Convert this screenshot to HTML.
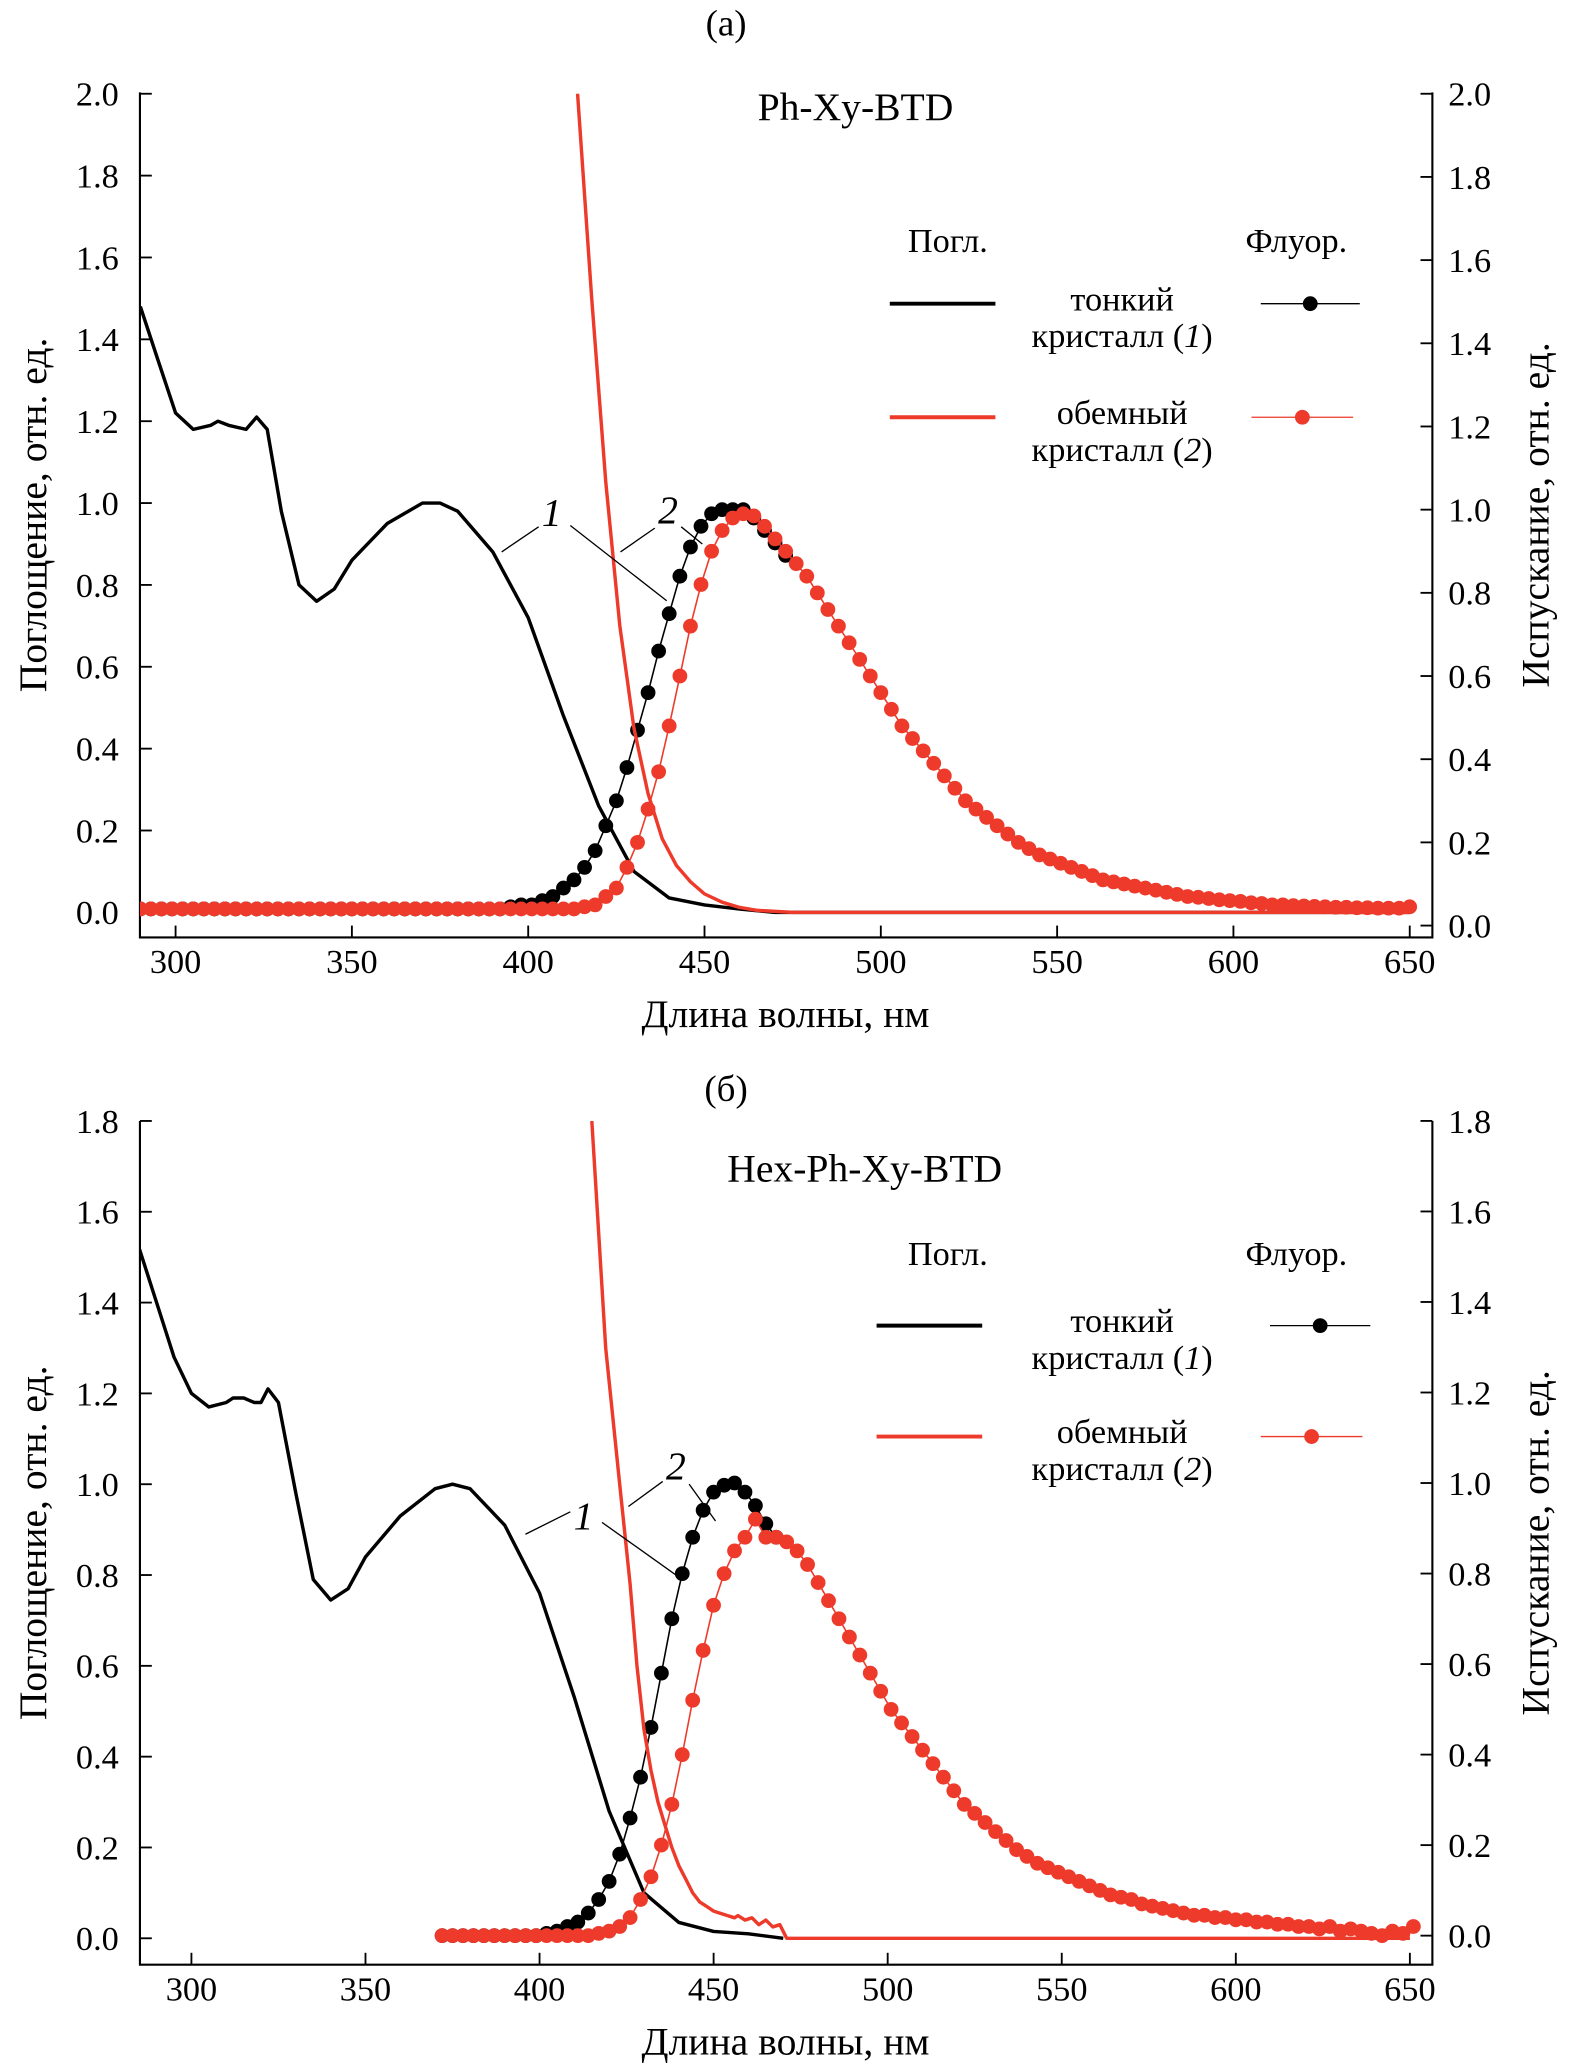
<!DOCTYPE html>
<html><head><meta charset="utf-8"><style>
html,body{margin:0;padding:0;background:#fff;}
svg{display:block;font-family:"Liberation Serif",serif;}
svg text{font-family:"Liberation Serif",serif;}
</style></head><body>
<svg id="fig" width="1571" height="2069" viewBox="0 0 1190 1567" preserveAspectRatio="none" font-family="Liberation Serif, serif" xmlns="http://www.w3.org/2000/svg"></svg>
<script>
// ---------- data: panel (a) ----------
const aAbs1Wl = [290,295,300,305,310,312,315,320,323,326,330,335,340,345,350,360,370,375,380,390,400,410,420,430,440,450,460,470,650];
const aAbs1Val = [1.48,1.35,1.22,1.18,1.19,1.20,1.19,1.18,1.21,1.18,0.98,0.80,0.76,0.79,0.86,0.95,1.0,1.0,0.98,0.88,0.72,0.48,0.26,0.10,0.035,0.018,0.008,0.0,0.0];
const aAbs2Wl = [414,418,422,426,430,434,438,442,446,450,455,460,465,475,650];
const aAbs2Val = [2.0,1.5,1.05,0.7,0.45,0.29,0.18,0.115,0.075,0.045,0.025,0.012,0.005,0.0,0.0];
const aFlWlStart = 290, aFlWlStep = 3;
const aFl1Val = [0.04,0.04,0.04,0.04,0.04,0.04,0.04,0.04,0.04,0.04,0.04,0.04,0.04,0.04,0.04,0.04,0.04,0.04,0.04,0.04,0.04,0.04,0.04,0.04,0.04,0.04,0.04,0.04,0.04,0.04,0.04,0.04,0.04,0.04,
 0.04,0.045,0.05,0.05,0.06,0.07,0.09,0.11,0.14,0.18,0.24,0.30,0.38,0.47,0.56,0.66,0.75,0.84,0.91,0.96,0.99,1.0,1.0,1.0,0.98,0.95,0.92,0.89];
const aFl2Val = [0.04,0.04,0.04,0.04,0.04,0.04,0.04,0.04,0.04,0.04,0.04,0.04,0.04,0.04,0.04,0.04,0.04,0.04,0.04,0.04,0.04,0.04,0.04,0.04,0.04,0.04,0.04,0.04,0.04,0.04,0.04,0.04,0.04,0.04,0.04,0.04,0.04,0.04,0.04,0.04,0.04,0.04,
 0.045,0.05,0.07,0.09,0.14,0.20,0.28,0.37,0.48,0.60,0.72,0.82,0.90,0.95,0.98,0.99,0.985,0.96,0.93,0.90,0.87,0.84,0.80,0.76,0.72,0.68,0.64,0.60,0.56,0.52,0.48,0.45,0.42,0.39,0.36,0.33,0.30,0.28,0.26,0.24,0.22,0.20,0.185,0.17,0.16,0.15,0.14,0.13,0.12,0.11,0.105,0.10,0.095,0.09,0.085,0.08,0.075,0.07,0.068,0.065,0.062,0.06,0.058,0.055,0.053,0.05,0.05,0.048,0.047,0.046,0.045,0.044,0.044,0.043,0.043,0.042,0.042,0.042,0.045];
const aYTicks = ["0.0","0.2","0.4","0.6","0.8","1.0","1.2","1.4","1.6","1.8","2.0"];
const xTicks = ["300","350","400","450","500","550","600","650"];
// ---------- data: panel (b) ----------
const bAbs1Wl = [285,290,295,300,305,310,312,315,318,320,322,325,330,335,340,345,350,360,370,375,380,390,400,410,420,430,440,450,460,470];
const bAbs1Val = [1.52,1.40,1.28,1.20,1.17,1.18,1.19,1.19,1.18,1.18,1.21,1.18,0.98,0.79,0.745,0.77,0.84,0.93,0.99,1.0,0.99,0.91,0.76,0.53,0.28,0.10,0.035,0.015,0.01,0.0];
const bAbs2Wl = [415,419,423,426,428,430,432,434,436,438,440,442,444,446,448,450,452,454,456,457,459,461,463,465,467,469,471,650];
const bAbs2Val = [1.8,1.3,1.0,0.78,0.6,0.46,0.37,0.3,0.25,0.2,0.16,0.13,0.1,0.08,0.07,0.06,0.055,0.05,0.045,0.05,0.04,0.045,0.03,0.04,0.025,0.03,0.0,0.0];
const bFlWlStart = 372, bFlWlStep = 3;
const bFl1Val = [0.0,0.0,0.0,0.0,0.0,0.0,0.0,0.0,0.0,0.0,0.005,0.01,0.02,0.03,0.05,0.08,0.12,0.18,0.26,0.35,0.46,0.58,0.70,0.80,0.88,0.94,0.98,0.995,1.0,0.98,0.95,0.91,0.88];
const bFl2Val = [0.0,0.0,0.0,0.0,0.0,0.0,0.0,0.0,0.0,0.0,0.0,0.0,0.0,0.0,0.0,0.005,0.01,0.02,0.04,0.08,0.13,0.20,0.29,0.40,0.52,0.63,0.73,0.80,0.85,0.88,0.92,0.88,0.88,0.87,0.85,0.82,0.78,0.74,0.70,0.66,0.62,0.58,0.54,0.50,
 0.47,0.44,0.41,0.38,0.35,0.32,0.29,0.27,0.25,0.23,0.21,0.19,0.175,0.16,0.15,0.14,0.13,0.12,0.11,0.10,0.09,0.085,0.08,0.07,0.065,0.06,0.055,0.05,0.045,0.045,0.04,0.04,0.035,0.035,0.03,0.03,0.025,0.025,0.02,0.02,0.015,0.02,0.01,0.015,0.01,0.005,0.0,0.01,0.005,0.02];
const bYTicks = ["0.0","0.2","0.4","0.6","0.8","1.0","1.2","1.4","1.6","1.8"];

const NS = "http://www.w3.org/2000/svg";
const svg = document.getElementById('fig');
const RED = "#ee3a2a";
function mk(tag, attrs, parent){ const e=document.createElementNS(NS,tag); for(const k in attrs) e.setAttribute(k,attrs[k]); (parent||svg).appendChild(e); return e; }
function txt(s, x, y, size, anchor, parent, extra){ const t=mk('text',Object.assign({x:x,y:y,'font-size':size,'text-anchor':anchor||'middle','font-family':'Liberation Serif, serif'},extra||{}),parent); t.textContent=s; return t; }

function panel(cfg){
  const g = mk('g',{});
  
  
  const X = w => cfg.x300 + (w-300)*cfg.pxnm;
  const YL = v => cfg.yl0 - v*cfg.ylU;
  const YR = v => cfg.yr0 - v*cfg.yrU;
  const ax = mk('path',{d:`M106 ${cfg.top} V${cfg.bot} H1085 V${cfg.top}`,fill:'none',stroke:'#000','stroke-width':1.6},g);
  
  
  cfg.yTicks.forEach((lab,i)=>{
    const v = parseFloat(lab);
    mk('line',{x1:106,x2:115,y1:YL(v),y2:YL(v),stroke:'#000','stroke-width':1.4},g);
    const tl = txt(lab,90,YL(v)+9,26,'end',g);
    
    
    mk('line',{x1:1076,x2:1085,y1:YR(v),y2:YR(v),stroke:'#000','stroke-width':1.4},g);
    const tr = txt(lab,1097,YR(v)+9,26,'start',g);
    
    
  });
  xTicks.forEach(lab=>{
    const w=parseFloat(lab);
    mk('line',{x1:X(w),x2:X(w),y1:cfg.bot,y2:cfg.bot-9,stroke:'#000','stroke-width':1.4},g);
    const t=txt(lab,X(w),cfg.bot+27,26,'middle',g);
    
    
  });
  const xt=txt('Длина волны, нм',595,cfg.bot+68,30,'middle',g);
  
  
  const cy=(cfg.top+cfg.bot)/2;
  const lt=txt('Поглощение, отн. ед.',0,0,30,'middle',g,{transform:`translate(35 ${cy}) rotate(-90)`});
  
  
  const rt=txt('Испускание, отн. ед.',0,0,30,'middle',g,{transform:`translate(1173 ${cy}) rotate(-90)`});
  
  
  const lb=txt(cfg.label,550,cfg.labelY,28,'middle',g);
  
  
  const ti=txt(cfg.title,cfg.titleX,cfg.titleY,30,'middle',g);
  
  

  const clipId='clip'+cfg.name;
  const cp=mk('clipPath',{id:clipId},g); mk('rect',{x:106,y:cfg.top,width:979,height:cfg.bot-cfg.top},cp);
  const pg=mk('g',{'clip-path':`url(#${clipId})`},g);
  function line(wl,val,Y,color,w,name){
    const d=wl.map((x,i)=>(i?'L':'M')+X(x).toFixed(1)+' '+Y(val[i]).toFixed(1)).join(' ');
    const p=mk('path',{d:d,fill:'none',stroke:color,'stroke-width':w,'stroke-linejoin':'round'},pg);
    
    
  }
  function dots(start,step,val,color,name){
    const wl=val.map((v,i)=>start+i*step);
    line(wl,val,YR,color,1.2,name+'-line');
    val.forEach((v,i)=>{
      const c=mk('circle',{cx:X(wl[i]).toFixed(1),cy:YR(v).toFixed(1),r:5.6,fill:color},pg);
      
      
    });
  }
  line(cfg.abs1Wl,cfg.abs1Val,YL,'#000',2.6,'absorption-curve-1');
  dots(cfg.flStart,cfg.flStep,cfg.fl1,'#000','fluorescence-1');
  dots(cfg.flStart,cfg.flStep,cfg.fl2,RED,'fluorescence-2');
  line(cfg.abs2Wl,cfg.abs2Val,YL,RED,2.6,'absorption-curve-2');

  cfg.ann.forEach(a=>{
    const t=txt(a.t,a.x,a.y,30,'middle',g,{'font-style':'italic'});
    
    
    a.l.forEach(l=>mk('line',{x1:l[0],y1:l[1],x2:l[2],y2:l[3],stroke:'#000','stroke-width':1},g));
  });
  const L=cfg.leg;
  const lg=mk('g',{},g);
  
  
  txt('Погл.',718,L.hy,26,'middle',lg);
  txt('Флуор.',982,L.hy,26,'middle',lg);
  mk('line',{x1:L.l1[0],x2:L.l1[1],y1:L.y1,y2:L.y1,stroke:'#000','stroke-width':3},lg);
  txt('тонкий',850,L.y1+5,26,'middle',lg);
  const k1=txt('кристалл (',850,L.y1+33,26,'middle',lg);
  k1.innerHTML='кристалл (<tspan font-style="italic">1</tspan>)';
  mk('line',{x1:L.m1[0],x2:L.m1[1],y1:L.y1,y2:L.y1,stroke:'#000','stroke-width':1},lg);
  mk('circle',{cx:(L.m1[0]+L.m1[1])/2,cy:L.y1,r:5.6,fill:'#000'},lg);
  mk('line',{x1:L.l1[0],x2:L.l1[1],y1:L.y2,y2:L.y2,stroke:RED,'stroke-width':3},lg);
  txt('обемный',850,L.y2+5,26,'middle',lg);
  const k2=txt('кристалл (',850,L.y2+33,26,'middle',lg);
  k2.innerHTML='кристалл (<tspan font-style="italic">2</tspan>)';
  mk('line',{x1:L.m2[0],x2:L.m2[1],y1:L.y2,y2:L.y2,stroke:RED,'stroke-width':1},lg);
  mk('circle',{cx:(L.m2[0]+L.m2[1])/2,cy:L.y2,r:5.6,fill:RED},lg);
}

panel({name:'panel-a',top:70,bot:710,x300:133,pxnm:2.671,yl0:691,ylU:310,yr0:701,yrU:315,
  yTicks:aYTicks,label:'(a)',labelY:27,title:'Ph-Xy-BTD',titleX:648,titleY:91,
  abs1Wl:aAbs1Wl,abs1Val:aAbs1Val,abs2Wl:aAbs2Wl,abs2Val:aAbs2Val,
  flStart:aFlWlStart,flStep:aFlWlStep,fl1:aFl1Val,fl2:aFl2Val,
  ann:[{t:'1',x:418,y:398,l:[[380,418,408,399],[432,398,505,455]]},{t:'2',x:506,y:396,l:[[470,418,496,400],[516,399,532,412]]}],
  leg:{hy:191,y1:230,y2:316,l1:[674,754],m1:[955,1030],m2:[948,1025]}});

panel({name:'panel-b',top:849,bot:1488,x300:145,pxnm:2.637,yl0:1468,ylU:343.9,yr0:1466,yrU:342.8,
  yTicks:bYTicks,label:'(б)',labelY:834,title:'Hex-Ph-Xy-BTD',titleX:655,titleY:895,
  abs1Wl:bAbs1Wl,abs1Val:bAbs1Val,abs2Wl:bAbs2Wl,abs2Val:bAbs2Val,
  flStart:bFlWlStart,flStep:bFlWlStep,fl1:bFl1Val,fl2:bFl2Val,
  ann:[{t:'1',x:442,y:1158,l:[[398,1162,432,1145],[456,1153,515,1195]]},{t:'2',x:512,y:1120,l:[[476,1141,502,1122],[522,1124,542,1152]]}],
  leg:{hy:958,y1:1004,y2:1088,l1:[664,744],m1:[962,1038],m2:[955,1032]}});
</script>
</body></html>
